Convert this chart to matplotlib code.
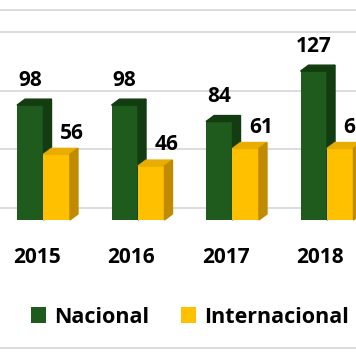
import matplotlib.pyplot as plt
import numpy as np
from matplotlib.patches import Polygon, Patch

# --- Données ---
annees = ["2015", "2016", "2017", "2018"]
nacional = [98, 98, 84, 127]
internacional = [56, 46, 61, 61]
grille = [0, 50, 100, 150]

# --- Couleurs ---
vert = "#1E5B1C"
vert_fonce = "#133D11"
jaune = "#FFC000"
jaune_haut = "#E9AC00"
jaune_cote = "#C08B00"

plt.rcParams['font.family'] = ['Open Sans', 'DejaVu Sans']
plt.rcParams['font.weight'] = 'bold'

fig = plt.figure(figsize=(3.56, 3.64), dpi=100)
ax = fig.add_axes([0, 0, 1, 1])
ax.set_xlim(-0.460, 3.307)
ax.set_ylim(-122.9, 187.7)
ax.axis('off')

largeur = 0.28
dx, dy = 0.085, 5.1     # profondeur 3D
fond = 10.24            # decalage du mur du fond

# Grille sur le mur du fond
for g in grille:
    ax.axhline(g + fond, color="#D9D9D9", lw=1.3, zorder=0)
# bords du graphique
ax.plot([0, 1], [0.9725, 0.9725], transform=ax.transAxes, color="#D9D9D9", lw=1.3)
ax.plot([0, 1], [0.044, 0.044], transform=ax.transAxes, color="#D9D9D9", lw=1.3)

def barre3d(x0, h, c_face, c_haut, c_cote, z):
    ax.bar(x0, h, width=largeur, align='edge', color=c_face, zorder=z)
    x1 = x0 + largeur
    haut = Polygon([(x0, h), (x1, h), (x1 + dx, h + dy), (x0 + dx, h + dy)],
                   closed=True, color=c_haut, zorder=z)
    cote = Polygon([(x1, 0), (x1 + dx, dy), (x1 + dx, h + dy), (x1, h)],
                   closed=True, color=c_cote, zorder=z)
    ax.add_patch(haut)
    ax.add_patch(cote)

x = np.arange(len(annees))
for i in x:
    barre3d(i - largeur, nacional[i], vert, vert_fonce, vert_fonce, 2 + 2 * i)
    barre3d(i, internacional[i], jaune, jaune_haut, jaune_cote, 3 + 2 * i)
    ax.text(i - largeur / 2, nacional[i] + 21, str(nacional[i]),
            ha='center', va='center', fontsize=15, fontweight='bold')
    ax.text(i + largeur / 2 + 0.16, internacional[i] + 18, str(internacional[i]),
            ha='center', va='center', fontsize=15, fontweight='bold')
    ax.text(i - 0.07, -32, annees[i], ha='center', va='center',
            fontsize=15, fontweight='bold')

# --- Légende ---
elements = [Patch(facecolor=vert, label="Nacional"),
            Patch(facecolor=jaune, label="Internacional")]
ax.legend(handles=elements, loc='center', bbox_to_anchor=(0.534, 0.129),
          ncol=2, frameon=False, handlelength=0.7, handleheight=0.7,
          handletextpad=0.35, columnspacing=1.5, prop={'weight': 'bold', 'size': 15.5})

fig.savefig("out.png", dpi=100)
